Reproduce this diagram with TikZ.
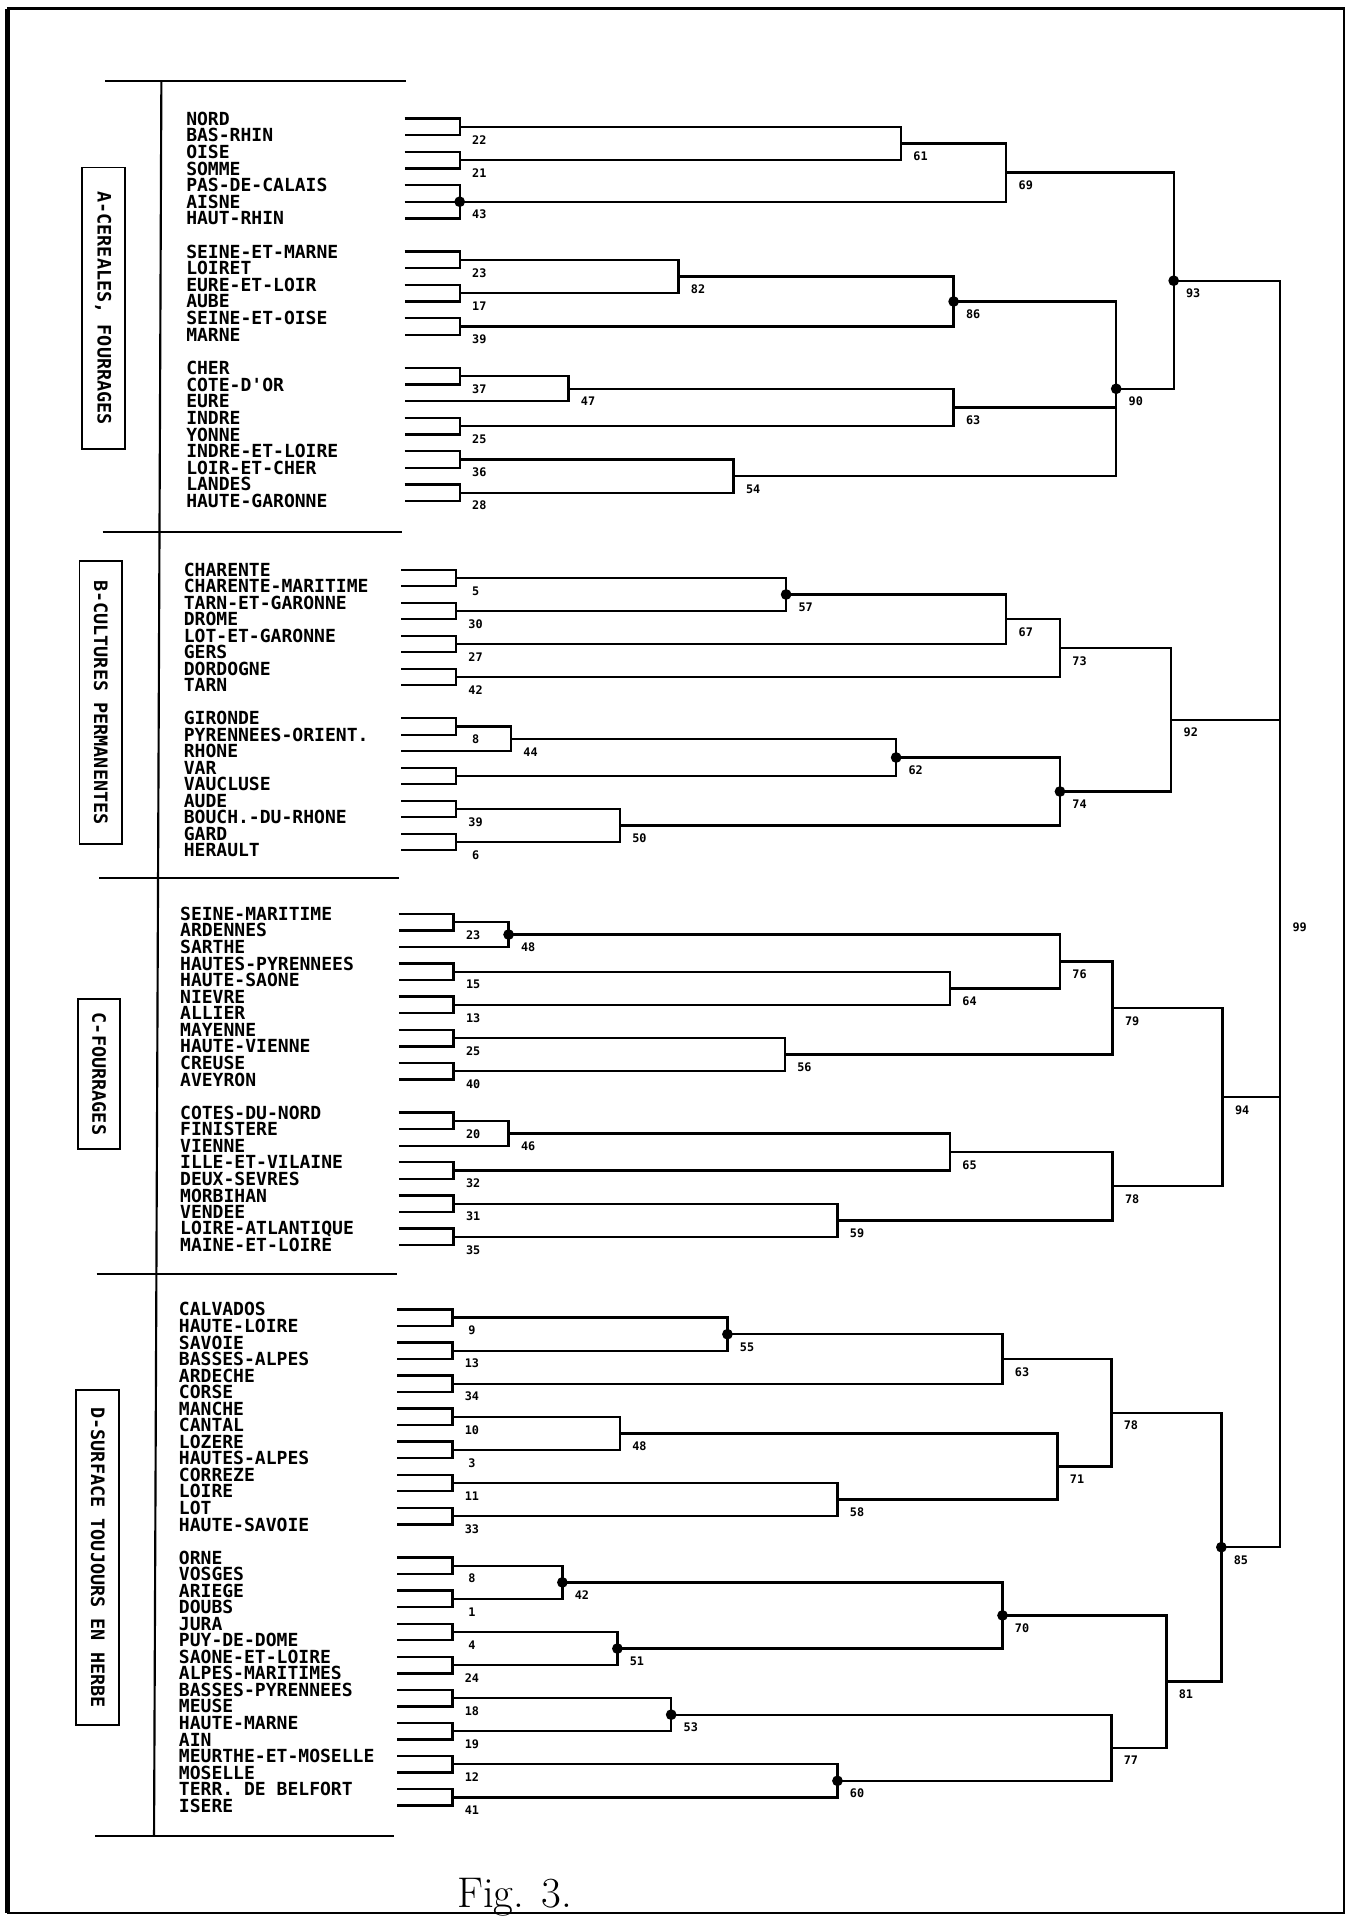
\documentclass[tikz,border=0pt]{standalone}
\usepackage{fontspec}
\usepackage{tikz}
\newfontfamily\plotfont{DejaVu Sans Mono}
\tikzset{
  dep/.style={anchor=west, inner sep=0pt, font=\plotfont\bfseries\fontsize{8.4}{9}\selectfont},
  num/.style={inner sep=0pt, xshift=0.32cm, yshift=-0.21cm, font=\plotfont\bfseries\fontsize{5.5}{6}\selectfont},
  grp/.style={draw, line width=0.9pt, rotate=-90, inner sep=0pt, minimum height=0.7cm, font=\plotfont\bfseries\fontsize{8.6}{9}\selectfont},
  dot/.style={circle, fill, inner sep=0pt, minimum size=5pt},
  tree/.style={line width=1.1pt}
}

\begin{document}
\begin{tikzpicture}[x=0.02cm, y=-0.02cm]
\useasboundingbox (0,0) rectangle (1104,1568);
\draw[line width=2.2pt] (6,7)--(6,1565);
\draw[line width=1pt] (6,7)--(1099,7)--(1099,1565)--(6,1565);
\draw[line width=1pt] (132,66)--(126,1502);
\draw[line width=1pt] (86,66)--(332,66);
\draw[line width=1pt] (84,435)--(329,435);
\draw[line width=1pt] (81,718)--(326,718);
\draw[line width=1pt] (79,1042)--(325,1042);
\draw[line width=1pt] (78,1502)--(322,1502);

\node[grp, minimum width=4.6cm] (grpa) at (84.5,252) {A-CEREALES, FOURRAGES};
\node[grp, minimum width=4.62cm] (grpb) at (82.5,574.5) {B-CULTURES PERMANENTES};
\node[grp, minimum width=2.46cm] (grpc) at (81,878.5) {C-FOURRAGES};
\node[grp, minimum width=5.48cm] (grpd) at (80,1274) {D-SURFACE TOUJOURS EN HERBE};

\node[dep] (nord) at (152,97) {NORD};
\node[dep] (basrhin) at (152,110.6) {BAS-RHIN};
\node[dep] (oise) at (152,124.2) {OISE};
\node[dep] (somme) at (152,137.8) {SOMME};
\node[dep] (pasdecalais) at (152,151.4) {PAS-DE-CALAIS};
\node[dep] (aisne) at (152,165) {AISNE};
\node[dep] (hautrhin) at (152,178.6) {HAUT-RHIN};
\node[dep] (seineetmarne) at (152,205.8) {SEINE-ET-MARNE};
\node[dep] (loiret) at (152,219.4) {LOIRET};
\node[dep] (eureetloir) at (152,233) {EURE-ET-LOIR};
\node[dep] (aube) at (152,246.6) {AUBE};
\node[dep] (seineetoise) at (152,260.2) {SEINE-ET-OISE};
\node[dep] (marne) at (152,273.8) {MARNE};
\node[dep] (cher) at (152,301) {CHER};
\node[dep] (cotedor) at (152,314.6) {COTE-D'OR};
\node[dep] (eure) at (152,328.2) {EURE};
\node[dep] (indre) at (152,341.8) {INDRE};
\node[dep] (yonne) at (152,355.4) {YONNE};
\node[dep] (indreetloire) at (152,369) {INDRE-ET-LOIRE};
\node[dep] (loiretcher) at (152,382.6) {LOIR-ET-CHER};
\node[dep] (landes) at (152,396.2) {LANDES};
\node[dep] (hautegaronne) at (152,409.8) {HAUTE-GARONNE};

\node[dep] (charente) at (150,466) {CHARENTE};
\node[dep] (charentemaritime) at (150,479.5) {CHARENTE-MARITIME};
\node[dep] (tarnetgaronne) at (150,493) {TARN-ET-GARONNE};
\node[dep] (drome) at (150,506.5) {DROME};
\node[dep] (lotetgaronne) at (150,520) {LOT-ET-GARONNE};
\node[dep] (gers) at (150,533.5) {GERS};
\node[dep] (dordogne) at (150,547) {DORDOGNE};
\node[dep] (tarn) at (150,560.5) {TARN};
\node[dep] (gironde) at (150,587.5) {GIRONDE};
\node[dep] (pyrorient) at (150,601) {PYRENNEES-ORIENT.};
\node[dep] (rhone) at (150,614.5) {RHONE};
\node[dep] (var) at (150,628) {VAR};
\node[dep] (vaucluse) at (150,641.5) {VAUCLUSE};
\node[dep] (aude) at (150,655) {AUDE};
\node[dep] (bouchesdurhone) at (150,668.5) {BOUCH.-DU-RHONE};
\node[dep] (gard) at (150,682) {GARD};
\node[dep] (herault) at (150,695.5) {HERAULT};

\node[dep] (seinemaritime) at (147,747.5) {SEINE-MARITIME};
\node[dep] (ardennes) at (147,761) {ARDENNES};
\node[dep] (sarthe) at (147,774.6) {SARTHE};
\node[dep] (hautespyrenees) at (147,788.1) {HAUTES-PYRENNEES};
\node[dep] (hautesaone) at (147,801.7) {HAUTE-SAONE};
\node[dep] (nievre) at (147,815.2) {NIEVRE};
\node[dep] (allier) at (147,828.8) {ALLIER};
\node[dep] (mayenne) at (147,842.3) {MAYENNE};
\node[dep] (hautevienne) at (147,855.9) {HAUTE-VIENNE};
\node[dep] (creuse) at (147,869.4) {CREUSE};
\node[dep] (aveyron) at (147,883) {AVEYRON};
\node[dep] (cotesdunord) at (147,910.1) {COTES-DU-NORD};
\node[dep] (finistere) at (147,923.6) {FINISTERE};
\node[dep] (vienne) at (147,937.2) {VIENNE};
\node[dep] (illeetvilaine) at (147,950.7) {ILLE-ET-VILAINE};
\node[dep] (deuxsevres) at (147,964.3) {DEUX-SEVRES};
\node[dep] (morbihan) at (147,977.8) {MORBIHAN};
\node[dep] (vendee) at (147,991.4) {VENDEE};
\node[dep] (loireatlantique) at (147,1004.9) {LOIRE-ATLANTIQUE};
\node[dep] (maineetloire) at (147,1018.5) {MAINE-ET-LOIRE};

\node[dep] (calvados) at (146,1071) {CALVADOS};
\node[dep] (hauteloire) at (146,1084.5) {HAUTE-LOIRE};
\node[dep] (savoie) at (146,1098.1) {SAVOIE};
\node[dep] (bassesalpes) at (146,1111.6) {BASSES-ALPES};
\node[dep] (ardeche) at (146,1125.1) {ARDECHE};
\node[dep] (corse) at (146,1138.6) {CORSE};
\node[dep] (manche) at (146,1152.2) {MANCHE};
\node[dep] (cantal) at (146,1165.7) {CANTAL};
\node[dep] (lozere) at (146,1179.2) {LOZERE};
\node[dep] (hautesalpes) at (146,1192.8) {HAUTES-ALPES};
\node[dep] (correze) at (146,1206.3) {CORREZE};
\node[dep] (loire) at (146,1219.8) {LOIRE};
\node[dep] (lot) at (146,1233.4) {LOT};
\node[dep] (hautesavoie) at (146,1246.9) {HAUTE-SAVOIE};
\node[dep] (orne) at (146,1274) {ORNE};
\node[dep] (vosges) at (146,1287.5) {VOSGES};
\node[dep] (ariege) at (146,1301) {ARIEGE};
\node[dep] (doubs) at (146,1314.6) {DOUBS};
\node[dep] (jura) at (146,1328.1) {JURA};
\node[dep] (puydedome) at (146,1341.6) {PUY-DE-DOME};
\node[dep] (saoneetloire) at (146,1355.1) {SAONE-ET-LOIRE};
\node[dep] (alpesmaritimes) at (146,1368.7) {ALPES-MARITIMES};
\node[dep] (bassespyrenees) at (146,1382.2) {BASSES-PYRENNEES};
\node[dep] (meuse) at (146,1395.7) {MEUSE};
\node[dep] (hautemarne) at (146,1409.3) {HAUTE-MARNE};
\node[dep] (ain) at (146,1422.8) {AIN};
\node[dep] (meurtheetmoselle) at (146,1436.3) {MEURTHE-ET-MOSELLE};
\node[dep] (moselle) at (146,1449.8) {MOSELLE};
\node[dep] (belfort) at (146,1463.4) {TERR. DE BELFORT};
\node[dep] (isere) at (146,1476.9) {ISERE};

\coordinate (la) at (331,0);
\coordinate (lb) at (328,0);
\coordinate (lc) at (326,0);
\coordinate (ld) at (325,0);

\path (376,103.8) coordinate (a22) node[num] (ta22) {22};
\path (376,131) coordinate (a21) node[num] (ta21) {21};
\path (376,165) coordinate (a43) node[num] (ta43) {43};
\path (376,212.6) coordinate (a23) node[num] (ta23) {23};
\path (376,239.8) coordinate (a17) node[num] (ta17) {17};
\path (376,267) coordinate (a39) node[num] (ta39) {39};
\path (376,307.8) coordinate (a37) node[num] (ta37) {37};
\path (376,348.6) coordinate (a25) node[num] (ta25) {25};
\path (376,375.8) coordinate (a36) node[num] (ta36) {36};
\path (376,403) coordinate (a28) node[num] (ta28) {28};
\path (737,117.4) coordinate (a61) node[num] (ta61) {61};
\path (823,141.2) coordinate (a69) node[num] (ta69) {69};
\path (555,226.2) coordinate (a82) node[num] (ta82) {82};
\path (780,246.6) coordinate (a86) node[num] (ta86) {86};
\path (465,318) coordinate (a47) node[num] (ta47) {47};
\path (780,333.3) coordinate (a63) node[num] (ta63) {63};
\path (600,389.4) coordinate (a54) node[num] (ta54) {54};
\path (913,318) coordinate (a90) node[num] (ta90) {90};
\path (960,229.6) coordinate (a93) node[num] (ta93) {93};

\path (373,472.75) coordinate (b5) node[num] (tb5) {5};
\path (373,499.75) coordinate (b30) node[num] (tb30) {30};
\path (373,526.75) coordinate (b27) node[num] (tb27) {27};
\path (373,553.75) coordinate (b42) node[num] (tb42) {42};
\path (373,594.25) coordinate (b8) node[num] (tb8) {8};
\coordinate (bvv) at (373,634.75);
\path (373,661.75) coordinate (b39) node[num] (tb39) {39};
\path (373,688.75) coordinate (b6) node[num] (tb6) {6};
\path (643,486.25) coordinate (b57) node[num] (tb57) {57};
\path (823,506.5) coordinate (b67) node[num] (tb67) {67};
\path (867,530.1) coordinate (b73) node[num] (tb73) {73};
\path (418,604.4) coordinate (b44) node[num] (tb44) {44};
\path (733,619.6) coordinate (b62) node[num] (tb62) {62};
\path (507,675.25) coordinate (b50) node[num] (tb50) {50};
\path (867,647.4) coordinate (b74) node[num] (tb74) {74};
\path (958,588.8) coordinate (b92) node[num] (tb92) {92};

\path (371,754.25) coordinate (c23) node[num] (tc23) {23};
\path (371,794.9) coordinate (c15) node[num] (tc15) {15};
\path (371,822) coordinate (c13) node[num] (tc13) {13};
\path (371,849.1) coordinate (c25) node[num] (tc25) {25};
\path (371,876.2) coordinate (c40) node[num] (tc40) {40};
\path (371,916.85) coordinate (c20) node[num] (tc20) {20};
\path (371,957.5) coordinate (c32) node[num] (tc32) {32};
\path (371,984.6) coordinate (c31) node[num] (tc31) {31};
\path (371,1011.7) coordinate (c35) node[num] (tc35) {35};
\path (416,764.4) coordinate (c48) node[num] (tc48) {48};
\path (777,808.45) coordinate (c64) node[num] (tc64) {64};
\path (867,786.4) coordinate (c76) node[num] (tc76) {76};
\path (642,862.65) coordinate (c56) node[num] (tc56) {56};
\path (910,824.5) coordinate (c79) node[num] (tc79) {79};
\path (416,927) coordinate (c46) node[num] (tc46) {46};
\path (777,942.25) coordinate (c65) node[num] (tc65) {65};
\path (685,998.15) coordinate (c59) node[num] (tc59) {59};
\path (910,970.2) coordinate (c78) node[num] (tc78) {78};
\path (1000,897.35) coordinate (c94) node[num] (tc94) {94};

\path (370,1077.75) coordinate (d9) node[num] (td9) {9};
\path (370,1104.85) coordinate (d13) node[num] (td13) {13};
\path (370,1131.85) coordinate (d34) node[num] (td34) {34};
\path (370,1158.95) coordinate (d10) node[num] (td10) {10};
\path (370,1186) coordinate (d3) node[num] (td3) {3};
\path (370,1213.05) coordinate (d11) node[num] (td11) {11};
\path (370,1240.15) coordinate (d33) node[num] (td33) {33};
\path (370,1280.75) coordinate (d8) node[num] (td8) {8};
\path (370,1307.8) coordinate (d1) node[num] (td1) {1};
\path (370,1334.85) coordinate (d4) node[num] (td4) {4};
\path (370,1361.9) coordinate (d24) node[num] (td24) {24};
\path (370,1388.95) coordinate (d18) node[num] (td18) {18};
\path (370,1416.05) coordinate (d19) node[num] (td19) {19};
\path (370,1443.05) coordinate (d12) node[num] (td12) {12};
\path (370,1470.15) coordinate (d41) node[num] (td41) {41};
\path (595,1091.3) coordinate (d55) node[num] (td55) {55};
\path (820,1111.6) coordinate (d63) node[num] (td63) {63};
\path (507,1172.5) coordinate (d48) node[num] (td48) {48};
\path (685,1226.6) coordinate (d58) node[num] (td58) {58};
\path (865,1199.5) coordinate (d71) node[num] (td71) {71};
\path (909,1155.6) coordinate (d78) node[num] (td78) {78};
\path (460,1294.3) coordinate (d42) node[num] (td42) {42};
\path (505,1348.4) coordinate (d51) node[num] (td51) {51};
\path (820,1321.3) coordinate (d70) node[num] (td70) {70};
\path (549,1402.5) coordinate (d53) node[num] (td53) {53};
\path (685,1456.6) coordinate (d60) node[num] (td60) {60};
\path (909,1429.6) coordinate (d77) node[num] (td77) {77};
\path (954,1375.4) coordinate (d81) node[num] (td81) {81};
\path (999,1265.5) coordinate (d85) node[num] (td85) {85};

\path (1047,747.55) coordinate (r99) node[num] (tr99) {99};

\draw[tree] (nord -| la) -| (a22) |- (basrhin -| la);
\draw[tree] (oise -| la) -| (a21) |- (somme -| la);
\draw[tree] (pasdecalais -| la) -| (a43) |- (hautrhin -| la);
\draw[tree] (aisne -| la) -- (a43);
\draw[tree] (seineetmarne -| la) -| (a23) |- (loiret -| la);
\draw[tree] (eureetloir -| la) -| (a17) |- (aube -| la);
\draw[tree] (seineetoise -| la) -| (a39) |- (marne -| la);
\draw[tree] (cher -| la) -| (a37) |- (cotedor -| la);
\draw[tree] (indre -| la) -| (a25) |- (yonne -| la);
\draw[tree] (indreetloire -| la) -| (a36) |- (loiretcher -| la);
\draw[tree] (landes -| la) -| (a28) |- (hautegaronne -| la);
\draw[tree] (a22) -| (a61) |- (a21);
\draw[tree] (a61) -| (a69) |- (a43);
\draw[tree] (a23) -| (a82) |- (a17);
\draw[tree] (a82) -| (a86) |- (a39);
\draw[tree] (a37) -| (a47) |- (eure -| la);
\draw[tree] (a47) -| (a63) |- (a25);
\draw[tree] (a36) -| (a54) |- (a28);
\draw[tree] (a86) -| (a90) |- (a54);
\draw[tree] (a63) -- (a63 -| a90);
\draw[tree] (a69) -| (a93) |- (a90);

\draw[tree] (charente -| lb) -| (b5) |- (charentemaritime -| lb);
\draw[tree] (tarnetgaronne -| lb) -| (b30) |- (drome -| lb);
\draw[tree] (lotetgaronne -| lb) -| (b27) |- (gers -| lb);
\draw[tree] (dordogne -| lb) -| (b42) |- (tarn -| lb);
\draw[tree] (gironde -| lb) -| (b8) |- (pyrorient -| lb);
\draw[tree] (var -| lb) -| (bvv) |- (vaucluse -| lb);
\draw[tree] (aude -| lb) -| (b39) |- (bouchesdurhone -| lb);
\draw[tree] (gard -| lb) -| (b6) |- (herault -| lb);
\draw[tree] (b5) -| (b57) |- (b30);
\draw[tree] (b57) -| (b67) |- (b27);
\draw[tree] (b67) -| (b73) |- (b42);
\draw[tree] (b8) -| (b44) |- (rhone -| lb);
\draw[tree] (b44) -| (b62) |- (bvv);
\draw[tree] (b39) -| (b50) |- (b6);
\draw[tree] (b62) -| (b74) |- (b50);
\draw[tree] (b73) -| (b92) |- (b74);

\draw[tree] (seinemaritime -| lc) -| (c23) |- (ardennes -| lc);
\draw[tree] (hautespyrenees -| lc) -| (c15) |- (hautesaone -| lc);
\draw[tree] (nievre -| lc) -| (c13) |- (allier -| lc);
\draw[tree] (mayenne -| lc) -| (c25) |- (hautevienne -| lc);
\draw[tree] (creuse -| lc) -| (c40) |- (aveyron -| lc);
\draw[tree] (cotesdunord -| lc) -| (c20) |- (finistere -| lc);
\draw[tree] (illeetvilaine -| lc) -| (c32) |- (deuxsevres -| lc);
\draw[tree] (morbihan -| lc) -| (c31) |- (vendee -| lc);
\draw[tree] (loireatlantique -| lc) -| (c35) |- (maineetloire -| lc);
\draw[tree] (c23) -| (c48) |- (sarthe -| lc);
\draw[tree] (c15) -| (c64) |- (c13);
\draw[tree] (c48) -| (c76) |- (c64);
\draw[tree] (c25) -| (c56) |- (c40);
\draw[tree] (c76) -| (c79) |- (c56);
\draw[tree] (c20) -| (c46) |- (vienne -| lc);
\draw[tree] (c46) -| (c65) |- (c32);
\draw[tree] (c31) -| (c59) |- (c35);
\draw[tree] (c65) -| (c78) |- (c59);
\draw[tree] (c79) -| (c94) |- (c78);

\draw[tree] (calvados -| ld) -| (d9) |- (hauteloire -| ld);
\draw[tree] (savoie -| ld) -| (d13) |- (bassesalpes -| ld);
\draw[tree] (ardeche -| ld) -| (d34) |- (corse -| ld);
\draw[tree] (manche -| ld) -| (d10) |- (cantal -| ld);
\draw[tree] (lozere -| ld) -| (d3) |- (hautesalpes -| ld);
\draw[tree] (correze -| ld) -| (d11) |- (loire -| ld);
\draw[tree] (lot -| ld) -| (d33) |- (hautesavoie -| ld);
\draw[tree] (orne -| ld) -| (d8) |- (vosges -| ld);
\draw[tree] (ariege -| ld) -| (d1) |- (doubs -| ld);
\draw[tree] (jura -| ld) -| (d4) |- (puydedome -| ld);
\draw[tree] (saoneetloire -| ld) -| (d24) |- (alpesmaritimes -| ld);
\draw[tree] (bassespyrenees -| ld) -| (d18) |- (meuse -| ld);
\draw[tree] (hautemarne -| ld) -| (d19) |- (ain -| ld);
\draw[tree] (meurtheetmoselle -| ld) -| (d12) |- (moselle -| ld);
\draw[tree] (belfort -| ld) -| (d41) |- (isere -| ld);
\draw[tree] (d9) -| (d55) |- (d13);
\draw[tree] (d55) -| (d63) |- (d34);
\draw[tree] (d10) -| (d48) |- (d3);
\draw[tree] (d11) -| (d58) |- (d33);
\draw[tree] (d48) -| (d71) |- (d58);
\draw[tree] (d63) -| (d78) |- (d71);
\draw[tree] (d8) -| (d42) |- (d1);
\draw[tree] (d4) -| (d51) |- (d24);
\draw[tree] (d42) -| (d70) |- (d51);
\draw[tree] (d18) -| (d53) |- (d19);
\draw[tree] (d12) -| (d60) |- (d41);
\draw[tree] (d53) -| (d77) |- (d60);
\draw[tree] (d70) -| (d81) |- (d77);
\draw[tree] (d78) -| (d85) |- (d81);

\draw[tree] (a93) -| (r99) |- (d85);
\draw[tree] (b92) -- (b92 -| r99);
\draw[tree] (c94) -- (c94 -| r99);

\node[dot] (pa43) at (a43) {};
\node[dot] (pa86) at (a86) {};
\node[dot] (pa90) at (a90) {};
\node[dot] (pa93) at (a93) {};
\node[dot] (pb57) at (b57) {};
\node[dot] (pb62) at (b62) {};
\node[dot] (pb74) at (b74) {};
\node[dot] (pc48) at (c48) {};
\node[dot] (pd55) at (d55) {};
\node[dot] (pd42) at (d42) {};
\node[dot] (pd51) at (d51) {};
\node[dot] (pd70) at (d70) {};
\node[dot] (pd53) at (d53) {};
\node[dot] (pd60) at (d60) {};
\node[dot] (pd85) at (d85) {};

\node[font=\fontsize{20}{24}\selectfont] (fig) at (421,1552) {Fig. 3.};
\end{tikzpicture}
\end{document}
